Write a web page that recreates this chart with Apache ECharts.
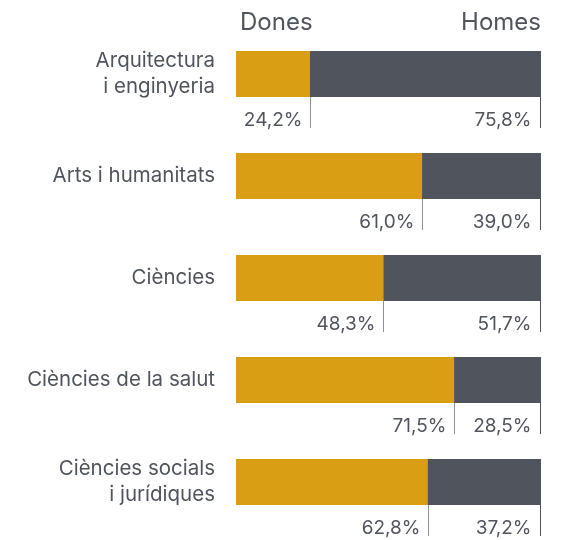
<!DOCTYPE html>
<html>
<head>
<meta charset="utf-8">
<script src="https://cdn.jsdelivr.net/npm/echarts@6/dist/echarts.min.js"></script>
<style>
html,body{margin:0;padding:0;background:#fff;}
#c{width:567px;height:540px;}
</style>
</head>
<body>
<div id="c"></div>
<script>
const categories = ["Arquitectura\ni enginyeria", "Arts i humanitats", "Ciències", "Ciències de la salut", "Ciències socials\ni jurídiques"];
const dones = [24.2, 61.0, 48.3, 71.5, 62.8];
const homes = [75.8, 39.0, 51.7, 28.5, 37.2];
const headerLeft = "Dones";
const headerRight = "Homes";

const FONT = "Inter, 'Noto Sans', sans-serif";
const TEXT = "#50545c";
const GOLD = "#da9e15";
const DARK = "#50545c";

const fmt = v => v.toFixed(1).replace('.', ',') + '%';

const chart = echarts.init(document.getElementById('c'), null, {renderer: 'canvas'});
chart.setOption({
  animation: false,
  backgroundColor: '#fff',
  grid: {left: 236, right: 26, top: 23, height: 510},
  xAxis: {type: 'value', min: 0, max: 100, show: false},
  yAxis: {
    type: 'category', data: categories, inverse: true,
    axisLine: {show: false}, axisTick: {show: false}, splitLine: {show: false},
    axisLabel: {color: TEXT, fontSize: 20.5, lineHeight: 26, fontFamily: FONT, margin: 21, align: 'right'}
  },
  graphic: [
    {type: 'text', left: 240, top: 11, style: {text: headerLeft, fill: TEXT, font: '24px ' + FONT}},
    {type: 'text', right: 26, top: 11, style: {text: headerRight, fill: TEXT, font: '24px ' + FONT}}
  ],
  series: [
    {type: 'bar', stack: 's', data: dones, barWidth: 46, itemStyle: {color: GOLD}, silent: true},
    {type: 'bar', stack: 's', data: homes, barWidth: 46, itemStyle: {color: DARK}, silent: true},
    {
      type: 'custom', silent: true,
      data: dones.map((d, i) => [i, d, homes[i]]),
      encode: {x: 1, y: 0},
      renderItem: function (params, api) {
        const idx = api.value(0);
        const d = api.value(1);
        const h = api.value(2);
        const pC = api.coord([0, idx]);
        const yB = pC[1] + 23;
        const xd = Math.round(api.coord([d, idx])[0]) + 0.5;
        const xr = Math.round(api.coord([d + h, idx])[0]) - 0.5;
        const yE = yB + 31;
        return {
          type: 'group',
          children: [
            {type: 'line', shape: {x1: xd, y1: yB, x2: xd, y2: yE}, style: {stroke: '#8e9197', lineWidth: 1}},
            {type: 'line', shape: {x1: xr, y1: yB, x2: xr, y2: yE}, style: {stroke: DARK, lineWidth: 1}},
            {type: 'text', style: {text: fmt(d), x: xd - 8, y: yB + 23, align: 'right', verticalAlign: 'middle', fill: TEXT, font: '19px ' + FONT}},
            {type: 'text', style: {text: fmt(h), x: xr - 9, y: yB + 23, align: 'right', verticalAlign: 'middle', fill: TEXT, font: '19px ' + FONT}}
          ]
        };
      }
    }
  ]
});
</script>
</body>
</html>
